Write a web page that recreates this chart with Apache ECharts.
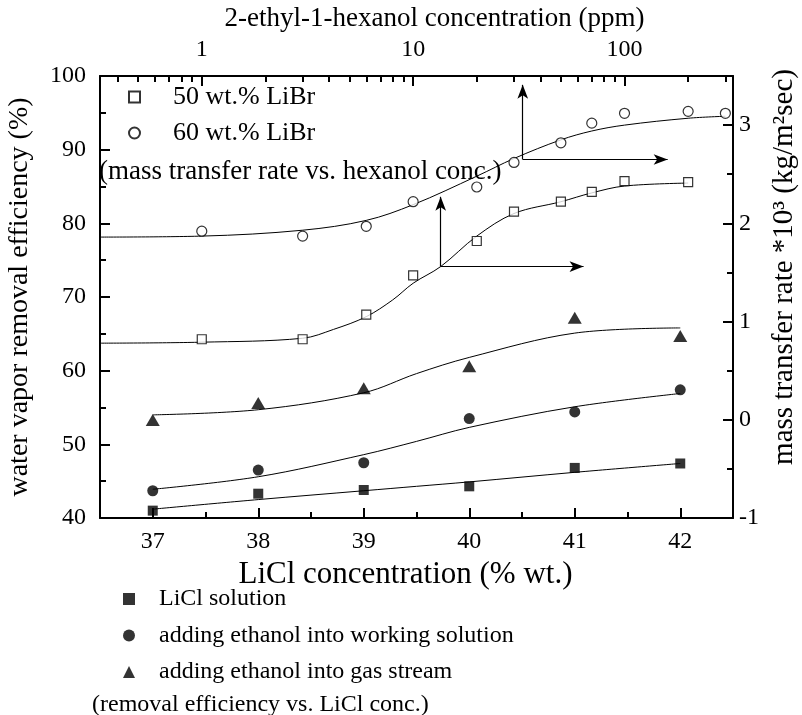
<!DOCTYPE html>
<html>
<head>
<meta charset="utf-8">
<script src="https://cdn.jsdelivr.net/npm/echarts@6/dist/echarts.min.js"></script>
<style>html,body{margin:0;padding:0;background:#fff}#c{width:802px;height:715px}</style>
</head>
<body>
<div id="c"></div>
<script>
// ---- bottom / left axes: removal efficiency vs LiCl concentration ----
const liclConc = [37, 38, 39, 40, 41, 42];
const liclSolution = [41.0, 43.3, 43.8, 44.3, 46.8, 47.4];
const ethanolWorking = [43.7, 46.5, 47.5, 53.5, 54.4, 57.4];
const ethanolGas = [53.3, 55.6, 57.6, 60.6, 67.2, 64.7];
const fitConc = [37, 38, 39, 39.5, 40, 41, 42];
const fitLiclSolution = [41.2, 42.5, 43.7, 44.3, 44.9, 46.2, 47.4];
const fitEthanolWorking = [43.9, 45.6, 48.6, 50.4, 52.3, 55.1, 56.9];
const fitEthanolGas = [54.0, 54.7, 57.0, 59.6, 61.8, 65.1, 65.8];

// ---- top / right axes: mass transfer rate vs hexanol concentration ----
const ppm50 = [1, 3, 6, 10, 20, 30, 50, 70, 100, 200];
const rate50 = [0.82, 0.82, 1.07, 1.47, 1.82, 2.12, 2.22, 2.32, 2.43, 2.42];
const ppm60 = [1, 3, 6, 10, 20, 30, 50, 70, 100, 200, 300];
const rate60 = [1.92, 1.87, 1.97, 2.22, 2.37, 2.62, 2.82, 3.02, 3.12, 3.14, 3.12];
const fitPpm50 = [0.33, 1, 3, 4.2, 6, 8, 10, 13.5, 20, 30, 50, 70, 100, 200];
const fitRate50 = [0.78, 0.79, 0.83, 0.92, 1.05, 1.22, 1.39, 1.56, 1.87, 2.1, 2.22, 2.31, 2.38, 2.41];
const fitPpm60 = [0.33, 1, 3, 6, 10, 20, 30, 50, 70, 100, 200, 300];
const fitRate60 = [1.86, 1.87, 1.93, 2.03, 2.19, 2.48, 2.66, 2.85, 2.94, 3.0, 3.07, 3.09];

// arrows: [origin ppm, origin rate, up-tip rate, right-tip ppm]
const arrow50 = [13.5, 1.56, 2.27, 64];
const arrow60 = [33, 2.65, 3.41, 160];

// ticks
const liclMajor = [37, 38, 39, 40, 41, 42];
const liclMinor = [37.5, 38.5, 39.5, 40.5, 41.5];
const ppmMajor = [1, 10, 100];
const ppmMinor = [0.4, 0.5, 0.6, 0.7, 0.8, 0.9, 2, 3, 4, 5, 6, 7, 8, 9, 20, 30, 40, 50, 60, 70, 80, 90, 200, 300];
const rateMajor = [-1, 0, 1, 2, 3];
const rateMinor = [-0.5, 0.5, 1.5, 2.5];

const FONT = 'Liberation Serif';
const black = '#000';
const pairs = (xs, ys) => xs.map((x, i) => [x, ys[i]]);

const gridPos = { left: 100, right: 69, top: 76, bottom: 197, outerBoundsMode: 'none', containLabel: false };
const lineAx = () => ({ show: true, onZero: false, lineStyle: { color: black, width: 2 } });
const noLine = () => ({ show: false, onZero: false });
const tickStyle = () => ({ color: black, width: 2 });
const lbl = { color: black, fontFamily: FONT, fontSize: 24 };
const nameStyle = (size, pad) => ({ color: black, fontFamily: FONT, fontSize: size, padding: pad || 0 });
const smoothF = 0.35;

const chart = echarts.init(document.getElementById('c'), null, { renderer: 'canvas' });
chart.setOption({
  animation: false,
  backgroundColor: '#fff',
  grid: [ Object.assign({}, gridPos), Object.assign({}, gridPos) ],
  xAxis: [
    { gridIndex: 0, type: 'value', position: 'bottom', min: 36.5, max: 42.5,
      axisLine: lineAx(), splitLine: { show: false },
      axisTick: { show: true, inside: true, length: 10, customValues: liclMajor, lineStyle: tickStyle() },
      axisLabel: Object.assign({ customValues: liclMajor, margin: 12 }, lbl),
      name: 'LiCl concentration (% wt.)', nameLocation: 'middle', nameGap: 41,
      nameTextStyle: nameStyle(31, [0, 22, 0, 0]) },
    { gridIndex: 0, type: 'log', logBase: 10, position: 'top', min: 0.33, max: 326,
      axisLine: lineAx(), splitLine: { show: false },
      axisTick: { show: true, inside: true, length: 10, customValues: ppmMajor, lineStyle: tickStyle() },
      axisLabel: Object.assign({ customValues: ppmMajor, margin: 14 }, lbl),
      name: '2-ethyl-1-hexanol concentration (ppm)', nameLocation: 'middle', nameGap: 44,
      nameTextStyle: nameStyle(27, [0, 0, 0, 36]) },
    { gridIndex: 1, type: 'value', position: 'bottom', min: 36.5, max: 42.5,
      axisLine: noLine(), splitLine: { show: false }, axisLabel: { show: false },
      axisTick: { show: true, inside: true, length: 6, customValues: liclMinor, lineStyle: tickStyle() } },
    { gridIndex: 1, type: 'log', logBase: 10, position: 'top', min: 0.33, max: 326,
      axisLine: noLine(), splitLine: { show: false }, axisLabel: { show: false },
      axisTick: { show: true, inside: true, length: 6, customValues: ppmMinor, lineStyle: tickStyle() } }
  ],
  yAxis: [
    { gridIndex: 0, type: 'value', position: 'left', min: 40, max: 100, interval: 10,
      axisLine: lineAx(), splitLine: { show: false },
      axisTick: { show: true, inside: true, length: 10, lineStyle: tickStyle() },
      minorTick: { show: true, splitNumber: 2, length: 6, lineStyle: tickStyle() },
      minorSplitLine: { show: false },
      axisLabel: Object.assign({ margin: 14 }, lbl),
      name: 'water vapor removal efficiency (%)', nameLocation: 'middle', nameGap: 66, nameRotate: 90,
      nameTextStyle: nameStyle(28) },
    { gridIndex: 0, type: 'value', position: 'right', min: -1, max: 3.5,
      axisLine: lineAx(), splitLine: { show: false },
      axisTick: { show: true, inside: true, length: 10, customValues: rateMajor, lineStyle: tickStyle() },
      axisLabel: Object.assign({ customValues: rateMajor, margin: 6 }, lbl),
      name: 'mass transfer rate *10³ (kg/m²sec)', nameLocation: 'middle', nameGap: 37, nameRotate: 90,
      nameTextStyle: nameStyle(29, [0, 0, 0, 60]) },
    { gridIndex: 1, type: 'value', position: 'right', min: -1, max: 3.5,
      axisLine: noLine(), splitLine: { show: false }, axisLabel: { show: false },
      axisTick: { show: true, inside: true, length: 6, customValues: rateMinor, lineStyle: tickStyle() } }
  ],
  legend: [
    { data: ['50 wt.% LiBr', '60 wt.% LiBr'], orient: 'vertical', left: 123, top: 79,
      itemWidth: 11, itemHeight: 11, itemGap: 10,
      textStyle: { color: black, fontFamily: FONT, fontSize: 26, padding: [0, 0, 0, 28] } },
    { data: ['LiCl solution', 'adding ethanol into working solution', 'adding ethanol into gas stream'],
      orient: 'vertical', left: 118, top: 582, itemWidth: 12, itemHeight: 12, itemGap: 12.5,
      textStyle: { color: black, fontFamily: FONT, fontSize: 24, padding: [0, 0, 0, 19] } }
  ],
  graphic: [
    { type: 'text', left: 99, top: 158, style: { text: '(mass transfer rate vs. hexanol conc.)', fill: black, font: '27px "Liberation Serif"' } },
    { type: 'text', left: 92, top: 693, style: { text: '(removal efficiency vs. LiCl conc.)', fill: black, font: '24px "Liberation Serif"' } }
  ],
  series: [
    { name: 'LiCl solution', type: 'scatter', xAxisIndex: 0, yAxisIndex: 0, symbol: 'rect', symbolSize: 10,
      itemStyle: { color: black }, data: pairs(liclConc, liclSolution), z: 5 },
    { name: 'adding ethanol into working solution', type: 'scatter', xAxisIndex: 0, yAxisIndex: 0, symbol: 'circle', symbolSize: 11,
      itemStyle: { color: black }, data: pairs(liclConc, ethanolWorking), z: 5 },
    { name: 'adding ethanol into gas stream', type: 'scatter', xAxisIndex: 0, yAxisIndex: 0, symbol: 'triangle', symbolSize: [14, 12],
      itemStyle: { color: black }, data: pairs(liclConc, ethanolGas), z: 5 },
    { type: 'line', xAxisIndex: 0, yAxisIndex: 0, smooth: smoothF, showSymbol: false, silent: true,
      lineStyle: { color: black, width: 1 }, data: pairs(fitConc, fitLiclSolution) },
    { type: 'line', xAxisIndex: 0, yAxisIndex: 0, smooth: smoothF, showSymbol: false, silent: true,
      lineStyle: { color: black, width: 1 }, data: pairs(fitConc, fitEthanolWorking) },
    { type: 'line', xAxisIndex: 0, yAxisIndex: 0, smooth: smoothF, showSymbol: false, silent: true,
      lineStyle: { color: black, width: 1 }, data: pairs(fitConc, fitEthanolGas) },
    { name: '50 wt.% LiBr', type: 'scatter', xAxisIndex: 1, yAxisIndex: 1, symbol: 'rect', symbolSize: 9,
      itemStyle: { color: '#fff', borderColor: black, borderWidth: 1.2 }, data: pairs(ppm50, rate50), z: 5 },
    { name: '60 wt.% LiBr', type: 'scatter', xAxisIndex: 1, yAxisIndex: 1, symbol: 'circle', symbolSize: 10,
      itemStyle: { color: '#fff', borderColor: black, borderWidth: 1.2 }, data: pairs(ppm60, rate60), z: 5 },
    { type: 'line', xAxisIndex: 1, yAxisIndex: 1, smooth: smoothF, showSymbol: false, silent: true,
      lineStyle: { color: black, width: 1 }, data: pairs(fitPpm50, fitRate50),
      markLine: { silent: true, symbol: ['none', 'arrow'], symbolSize: [8, 14], label: { show: false },
        lineStyle: { color: black, width: 1.2, type: 'solid' },
        data: [
          [{ coord: [arrow50[0], arrow50[1]] }, { coord: [arrow50[0], arrow50[2]] }],
          [{ coord: [arrow50[0], arrow50[1]] }, { coord: [arrow50[3], arrow50[1]] }]
        ] } },
    { type: 'line', xAxisIndex: 1, yAxisIndex: 1, smooth: smoothF, showSymbol: false, silent: true,
      lineStyle: { color: black, width: 1 }, data: pairs(fitPpm60, fitRate60),
      markLine: { silent: true, symbol: ['none', 'arrow'], symbolSize: [8, 14], label: { show: false },
        lineStyle: { color: black, width: 1.2, type: 'solid' },
        data: [
          [{ coord: [arrow60[0], arrow60[1]] }, { coord: [arrow60[0], arrow60[2]] }],
          [{ coord: [arrow60[0], arrow60[1]] }, { coord: [arrow60[3], arrow60[1]] }]
        ] } }
  ]
});
</script>
</body>
</html>
